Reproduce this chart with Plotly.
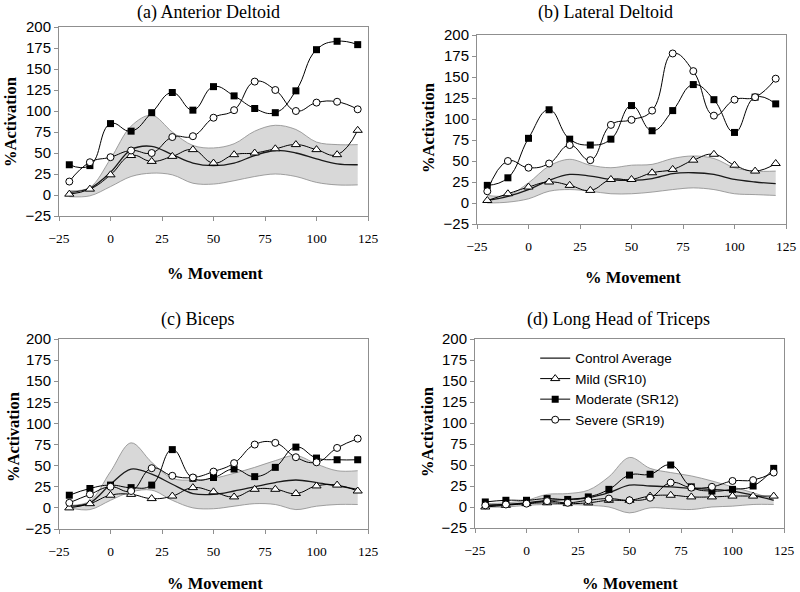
import plotly.graph_objects as go

# % movement sample points shared by every panel
x_pct = [-20, -10, 0, 10, 20, 30, 40, 50, 60, 70, 80, 90, 100, 110, 120]

# (a) Anterior Deltoid
ctrl_a = [3, 8, 27, 54, 58, 48, 38, 35, 38, 47, 53, 50, 43, 37, 36]
upper_a = [5, 9, 43, 82, 95, 75, 59, 56, 61, 76, 83, 78, 63, 60, 60]
lower_a = [-2, -1, 10, 22, 26, 24, 14, 13, 17, 22, 25, 22, 15, 12, 12]
mild_a = [1, 7, 24, 47, 40, 46, 54, 38, 48, 50, 55, 60, 54, 48, 77]
mod_a = [36, 35, 85, 76, 98, 122, 101, 129, 118, 103, 98, 124, 173, 183, 179]
sev_a = [16, 39, 45, 53, 50, 69, 70, 92, 101, 135, 125, 100, 110, 111, 102]

# (b) Lateral Deltoid
ctrl_b = [3, 8, 16, 27, 34, 32, 28, 27, 29, 35, 36, 34, 28, 25, 23]
upper_b = [9, 9, 24, 44, 52, 45, 42, 45, 46, 53, 56, 53, 42, 38, 38]
lower_b = [0, 1, 5, 14, 16, 14, 11, 11, 13, 16, 18, 16, 11, 10, 9]
mild_b = [3, 11, 19, 25, 21, 15, 28, 28, 36, 40, 51, 58, 45, 38, 47]
mod_b = [21, 30, 77, 111, 76, 69, 76, 116, 86, 110, 141, 123, 84, 126, 118]
sev_b = [14, 50, 42, 47, 69, 51, 93, 99, 110, 178, 157, 104, 123, 126, 148]

# (c) Biceps
ctrl_c = [2, 6, 28, 46, 40, 28, 17, 16, 20, 25, 30, 33, 30, 26, 22]
upper_c = [3, 8, 43, 77, 54, 35, 33, 35, 41, 48, 56, 62, 52, 44, 44]
lower_c = [0, -2, 9, 19, 21, 9, 0, -1, 2, 5, 4, -2, 2, 4, 4]
mild_c = [0, 5, 15, 16, 11, 14, 24, 19, 13, 22, 22, 17, 26, 27, 20]
mod_c = [15, 23, 27, 24, 27, 69, 35, 36, 46, 37, 48, 72, 59, 57, 57]
sev_c = [6, 16, 25, 20, 47, 38, 36, 43, 53, 75, 77, 60, 54, 71, 82]

# (d) Long Head of Triceps
ctrl_d = [2, 3, 5, 8, 9, 11, 17, 26, 25, 24, 22, 21, 19, 14, 8]
upper_d = [4, 5, 8, 15, 16, 20, 36, 59, 46, 41, 37, 31, 24, 17, 9]
lower_d = [0, 0, 2, 3, 3, 2, 0, -7, -1, -2, -3, 0, 1, 3, 3]
mild_d = [0, 2, 4, 5, 4, 5, 8, 8, 13, 14, 12, 12, 13, 13, 13]
mod_d = [6, 8, 8, 10, 9, 12, 21, 38, 39, 50, 24, 19, 21, 25, 46]
sev_d = [2, 3, 4, 7, 5, 8, 10, 8, 11, 29, 23, 24, 31, 32, 41]

titles = ["(a) Anterior Deltoid", "(b) Lateral Deltoid", "(c) Biceps", "(d) Long Head of Triceps"]

SERIF = "Liberation Serif, Times New Roman, serif"
SANS = "Liberation Sans, Arial, sans-serif"
W, H = 800, 592

# plot areas in pixels: (left, right, top, bottom)
boxes = [
    (59, 368, 27, 216),
    (477, 786, 35, 224),
    (59, 368, 339, 529),
    (475, 784, 339, 528),
]

panels = [
    (ctrl_a, upper_a, lower_a, mild_a, mod_a, sev_a),
    (ctrl_b, upper_b, lower_b, mild_b, mod_b, sev_b),
    (ctrl_c, upper_c, lower_c, mild_c, mod_c, sev_c),
    (ctrl_d, upper_d, lower_d, mild_d, mod_d, sev_d),
]

SM = 1.3  # excel-like smoothing

fig = go.Figure()

for i, (ctrl, upper, lower, mild, mod, sev) in enumerate(panels):
    n = i + 1
    xa = "x" if n == 1 else f"x{n}"
    ya = "y" if n == 1 else f"y{n}"
    leg = (n == 4)
    common = dict(xaxis=xa, yaxis=ya, hoverinfo="skip")

    # control band (mean +/- sd)
    fig.add_trace(go.Scatter(x=x_pct, y=lower, mode="lines", showlegend=False,
                             line=dict(color="#8a8a8a", width=0.8, shape="spline", smoothing=1), **common))
    fig.add_trace(go.Scatter(x=x_pct, y=upper, mode="lines", showlegend=False,
                             fill="tonexty", fillcolor="#d8d8d8",
                             line=dict(color="#8a8a8a", width=0.8, shape="spline", smoothing=1), **common))
    fig.add_trace(go.Scatter(x=x_pct, y=ctrl, mode="lines", name="Control Average", showlegend=leg,
                             line=dict(color="#1a1a1a", width=1.3, shape="spline", smoothing=1), **common))
    fig.add_trace(go.Scatter(x=x_pct, y=mild, mode="lines+markers", name="Mild (SR10)", showlegend=leg,
                             line=dict(color="black", width=1, shape="spline", smoothing=SM),
                             marker=dict(symbol="triangle-up", size=8, color="white",
                                         line=dict(color="black", width=1)), **common))
    fig.add_trace(go.Scatter(x=x_pct, y=mod, mode="lines+markers", name="Moderate (SR12)", showlegend=leg,
                             line=dict(color="black", width=1, shape="spline", smoothing=SM),
                             marker=dict(symbol="square", size=7, color="black"), **common))
    fig.add_trace(go.Scatter(x=x_pct, y=sev, mode="lines+markers", name="Severe (SR19)", showlegend=leg,
                             line=dict(color="black", width=1, shape="spline", smoothing=SM),
                             marker=dict(symbol="circle", size=7, color="white",
                                         line=dict(color="black", width=1)), **common))

layout = dict(
    width=W, height=H,
    template="none",
    margin=dict(l=0, r=0, t=0, b=0, autoexpand=False),
    paper_bgcolor="white", plot_bgcolor="white",
    showlegend=True,
    legend=dict(x=0.669, y=0.421, xanchor="left", yanchor="top", traceorder="normal",
                bgcolor="rgba(0,0,0,0)", font=dict(family=SANS, size=13.5, color="black"),
                tracegroupgap=0),
    annotations=[],
)

for i, (l, r, t, b) in enumerate(boxes):
    n = i + 1
    xk = "xaxis" if n == 1 else f"xaxis{n}"
    yk = "yaxis" if n == 1 else f"yaxis{n}"
    xa = "x" if n == 1 else f"x{n}"
    ya = "y" if n == 1 else f"y{n}"
    layout[xk] = dict(domain=[l / W, r / W], anchor=ya, range=[-25, 125], tick0=0, dtick=25,
                      automargin=False,
                      showgrid=False, zeroline=False, showline=True, mirror=True,
                      linecolor="#8f8f8f", linewidth=1, ticks="outside", ticklen=4,
                      tickcolor="#8f8f8f", ticklabelstandoff=6,
                      tickfont=dict(family=SERIF, size=13.5, color="black"))
    layout[yk] = dict(domain=[1 - b / H, 1 - t / H], anchor=xa, range=[-25, 200], tick0=0, dtick=25,
                      automargin=False,
                      showgrid=False, zeroline=False, showline=True, mirror=True,
                      linecolor="#8f8f8f", linewidth=1, ticks="outside", ticklen=4,
                      tickcolor="#8f8f8f",
                      tickfont=dict(family=SANS, size=15, color="black"))

# panel titles and axis titles (pixel positions)
title_pos = [(208, 12), (605, 12), (197, 319), (618, 319)]
xtitle_pos = [(215, 273), (633, 278), (215, 583), (630, 583)]
ytitle_pos = [(10, 122), (428, 128), (13, 437), (427, 432)]

for i in range(4):
    tx, ty = title_pos[i]
    layout["annotations"].append(dict(text=titles[i], x=tx / W, y=1 - ty / H, xref="paper", yref="paper",
                                      showarrow=False, xanchor="center", yanchor="middle",
                                      font=dict(family=SERIF, size=18, color="black")))
    mx, my = xtitle_pos[i]
    layout["annotations"].append(dict(text="<b>% Movement</b>", x=mx / W, y=1 - my / H, xref="paper",
                                      yref="paper", showarrow=False, xanchor="center", yanchor="middle",
                                      font=dict(family=SERIF, size=16.5, color="black")))
    ax_, ay_ = ytitle_pos[i]
    layout["annotations"].append(dict(text="<b>%Activation</b>", x=ax_ / W, y=1 - ay_ / H, xref="paper",
                                      yref="paper", showarrow=False, xanchor="center", yanchor="middle",
                                      textangle=-90, font=dict(family=SERIF, size=16.5, color="black")))

fig.update_layout(**layout)
# drop the default body margin so the 800x592 figure sits at the window origin
fig.write_html("out.html", config={"displayModeBar": False},
               post_script="document.body.style.margin='0';document.body.style.padding='0';")
